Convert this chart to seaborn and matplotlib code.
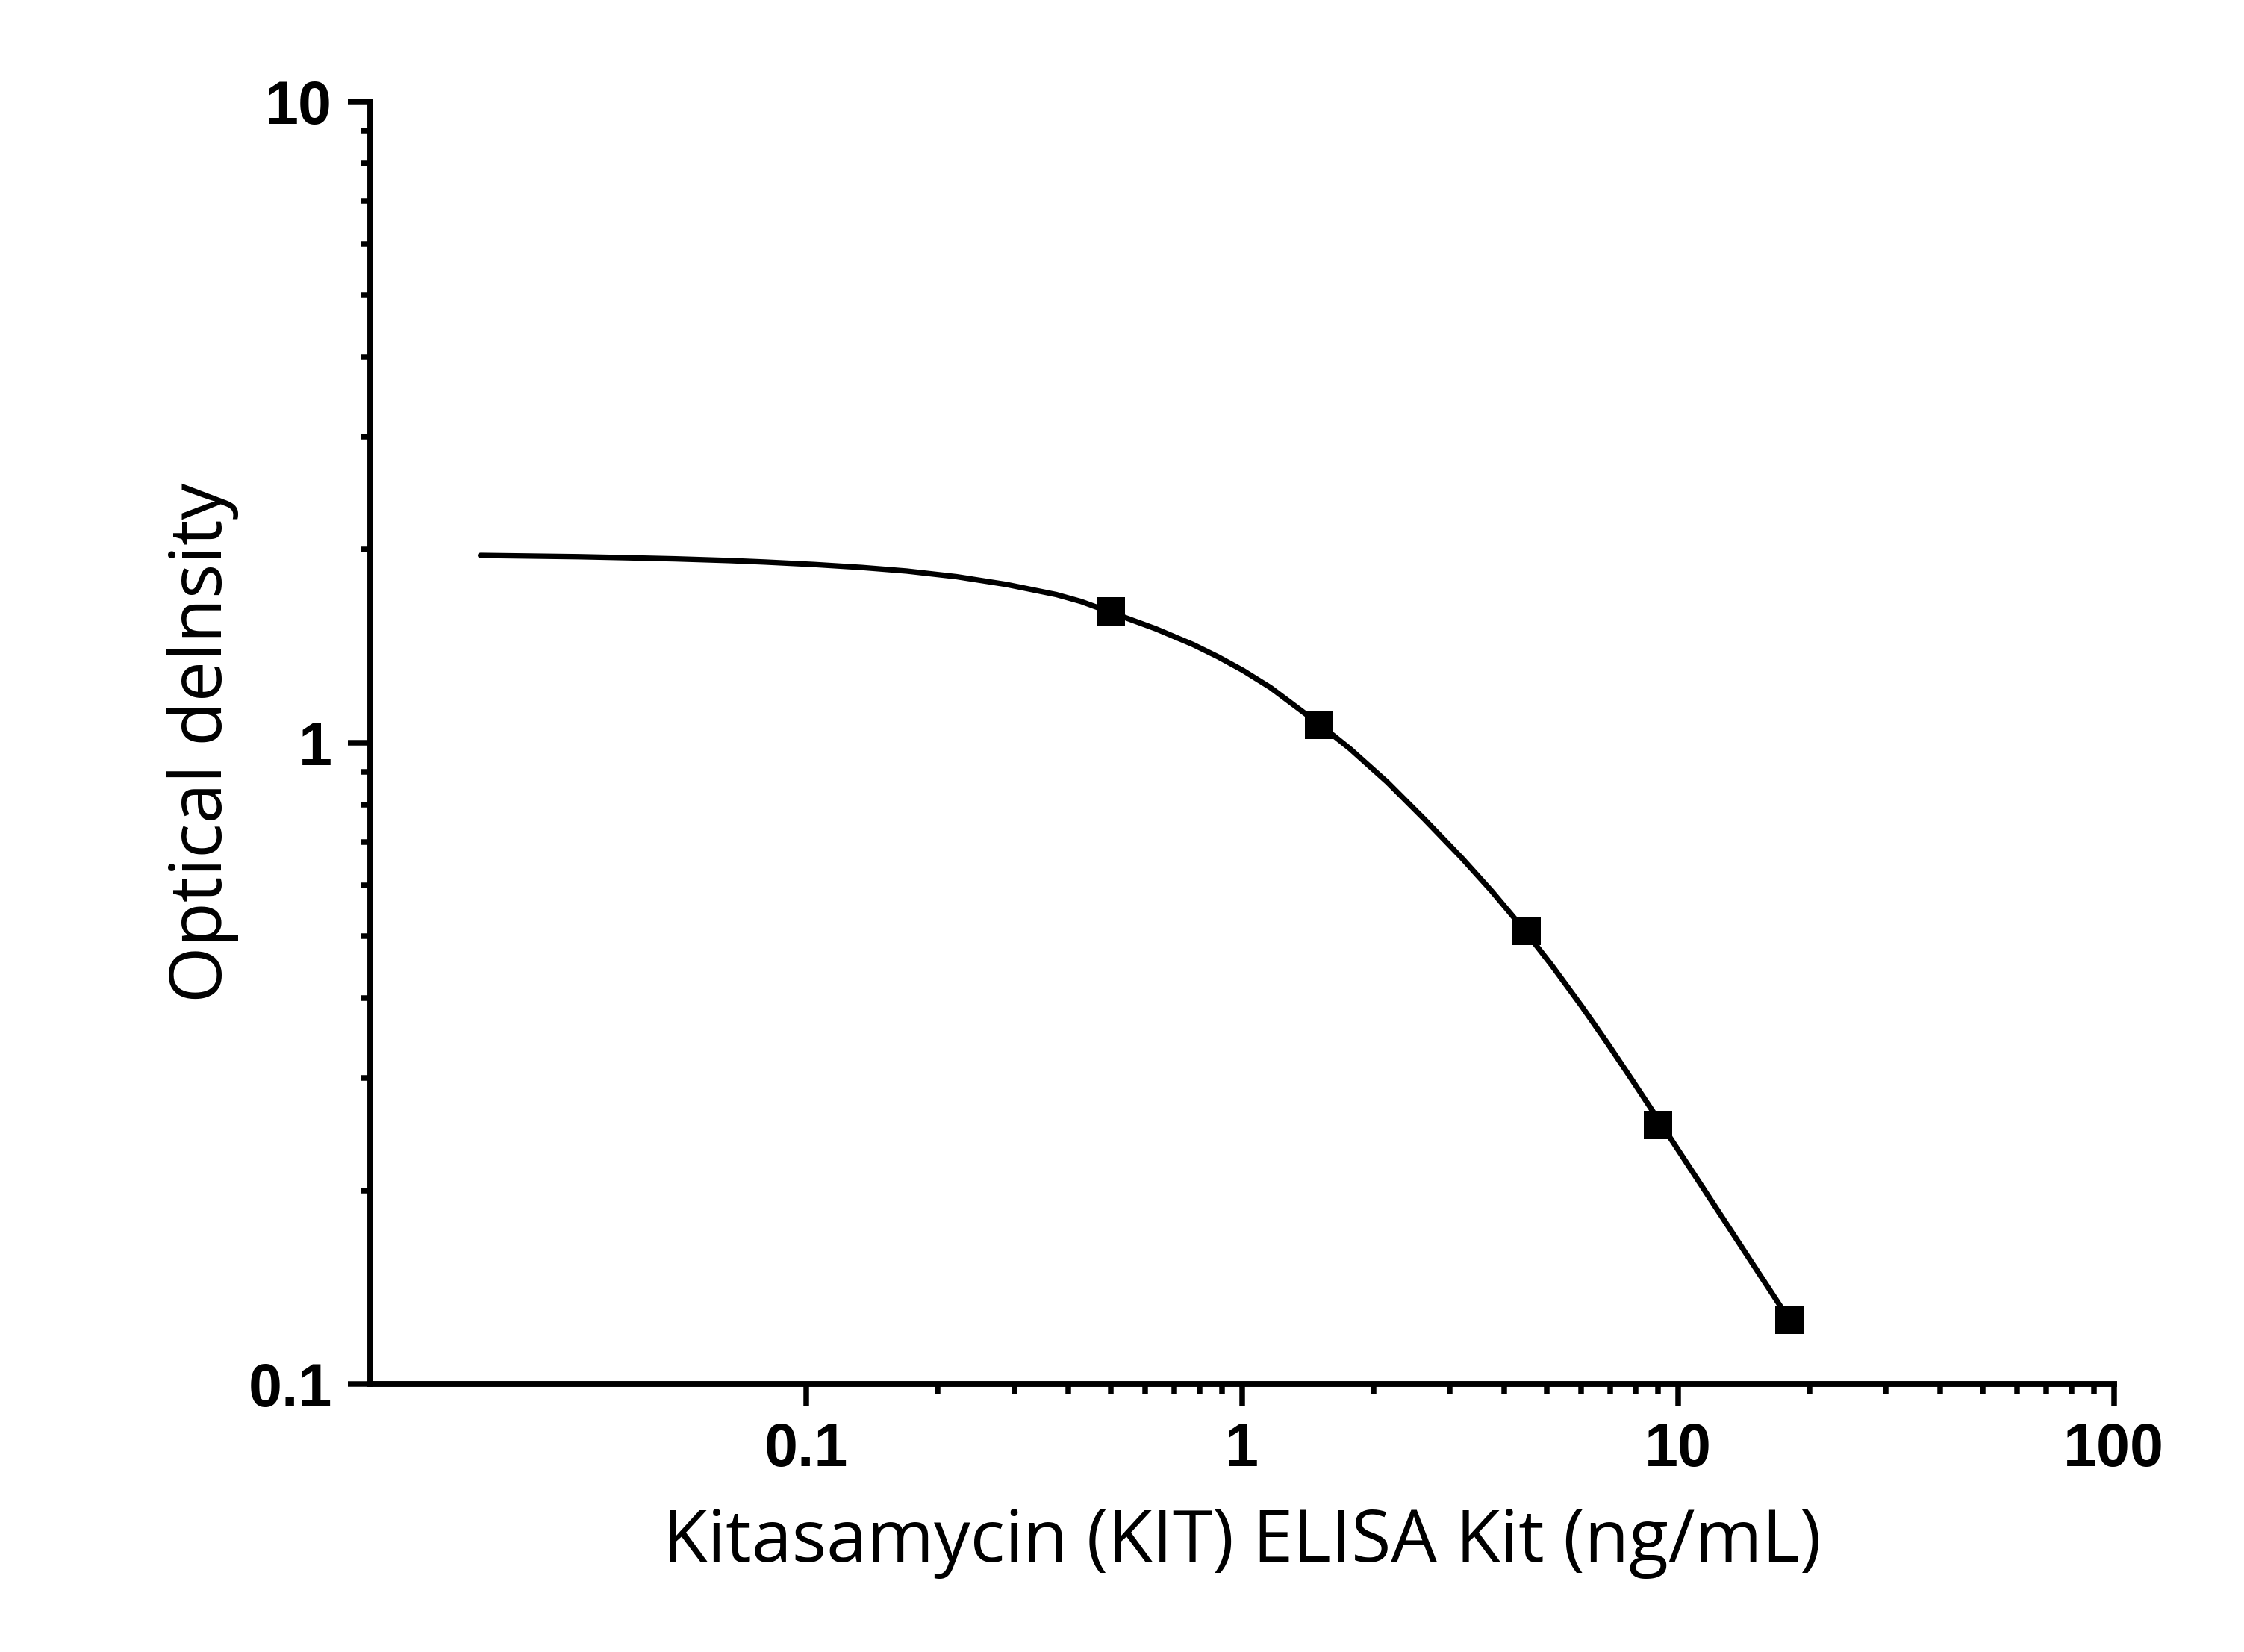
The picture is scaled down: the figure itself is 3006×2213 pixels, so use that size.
import matplotlib
matplotlib.use("Agg")
import matplotlib.pyplot as plt
import matplotlib.ticker as mticker
import seaborn as sns
import pandas as pd

# Standard points (concentration ng/mL, optical density)
conc = [0.5, 1.5, 4.5, 9.0, 18.0]
od = [1.603, 1.068, 0.5095, 0.2534, 0.126]

# Fitted curve
curve_x = [0.0179, 0.02129, 0.02998, 0.03848, 0.05008, 0.06686, 0.08039, 0.1045,
           0.1343, 0.1701, 0.2213, 0.2879, 0.3747, 0.4272, 0.4983, 0.634,
           0.7723, 0.8806, 1.0047, 1.161, 1.494, 1.769, 2.154, 2.624, 3.197,
           3.744, 4.384, 5.133, 6.010, 6.902, 7.924, 8.989, 17.96]
curve_y = [1.960, 1.957, 1.951, 1.944, 1.936, 1.924, 1.914, 1.897,
           1.877, 1.853, 1.816, 1.766, 1.703, 1.661, 1.599, 1.506,
           1.423, 1.362, 1.297, 1.220, 1.073, 0.9788, 0.8683, 0.7593, 0.6606,
           0.5865, 0.5163, 0.4499, 0.3886, 0.3395, 0.2951, 0.2592, 0.1263]

x_major = [0.1, 1, 10, 100]
x_major_labels = ["0.1", "1", "10", "100"]
x_minor = [0.2, 0.3, 0.4, 0.5, 0.6, 0.7, 0.8, 0.9,
           2, 3, 4, 5, 6, 7, 8, 9,
           20, 30, 40, 50, 60, 70, 80, 90]
y_major = [0.1, 1, 10]
y_major_labels = ["0.1", "1", "10"]

xlabel = "Kitasamycin (KIT) ELISA Kit (ng/mL)"
ylabel = "Optical delnsity"

sns.set_style("ticks")
plt.rcParams['font.family'] = ['Liberation Sans', 'DejaVu Sans']

fig = plt.figure(figsize=(3006 / 300, 2213 / 300), dpi=300)
ax = fig.add_axes([0.165, 0.1622, 0.942 - 0.165, 0.9385 - 0.1622])

curve_df = pd.DataFrame({"x": curve_x, "y": curve_y})
pts_df = pd.DataFrame({"x": conc, "y": od})

sns.lineplot(data=curve_df, x="x", y="y", ax=ax, color="black", linewidth=1.75,
             sort=False, estimator=None, solid_capstyle="round",
             solid_joinstyle="round")
sns.scatterplot(data=pts_df, x="x", y="y", ax=ax, color="black", marker="s",
                s=83, linewidth=0, zorder=5)

ax.set_xscale("log")
ax.set_yscale("log")
ax.set_xlim(0.01, 100)
ax.set_ylim(0.1, 10)

ax.xaxis.set_major_locator(mticker.FixedLocator(x_major))
ax.xaxis.set_major_formatter(mticker.FixedFormatter(x_major_labels))
ax.xaxis.set_minor_locator(mticker.FixedLocator(x_minor))
ax.xaxis.set_minor_formatter(mticker.NullFormatter())
ax.yaxis.set_major_locator(mticker.FixedLocator(y_major))
ax.yaxis.set_major_formatter(mticker.FixedFormatter(y_major_labels))
ax.yaxis.set_minor_locator(mticker.LogLocator(base=10, subs=range(2, 10)))
ax.yaxis.set_minor_formatter(mticker.NullFormatter())

for side in ["top", "right"]:
    ax.spines[side].set_visible(False)
for side in ["left", "bottom"]:
    ax.spines[side].set_linewidth(1.9)
    ax.spines[side].set_color("black")

ax.tick_params(axis="both", which="major", length=7.2, width=1.8, color="black",
               direction="out", pad=5, labelsize=19.4, labelcolor="black")
ax.tick_params(axis="both", which="minor", length=3.0, width=1.8, color="black",
               direction="out")
for lab in ax.get_xticklabels() + ax.get_yticklabels():
    lab.set_fontfamily(['Liberation Sans', 'DejaVu Sans'])
    lab.set_fontweight("bold")

ax.set_xlabel(xlabel, fontsize=23.3, family=['Open Sans', 'DejaVu Sans'],
              labelpad=9, color="black")
ax.set_ylabel(ylabel, fontsize=23.3, family=['Open Sans', 'DejaVu Sans'],
              labelpad=3, color="black")

fig.savefig("out.png", dpi=300, facecolor="white")
